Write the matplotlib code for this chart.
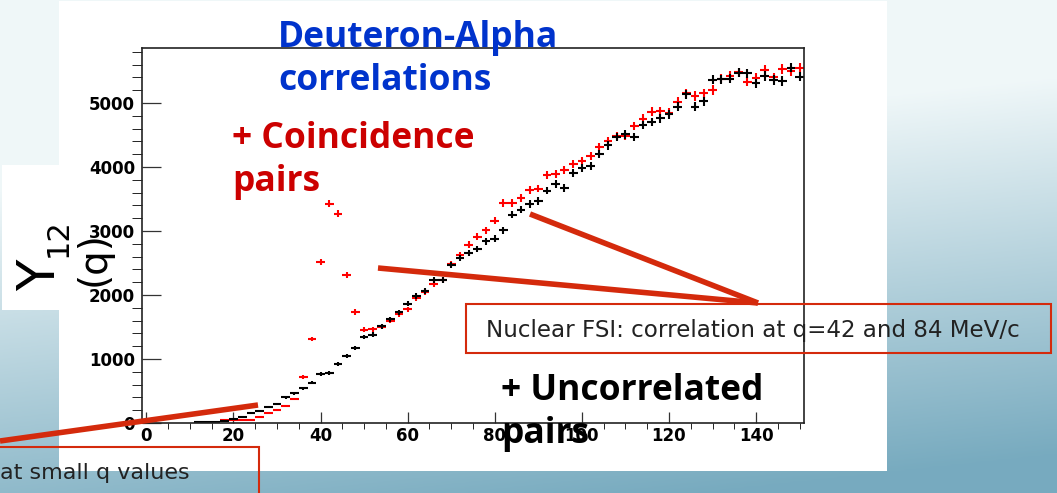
import numpy as np
import matplotlib.pyplot as plt
from matplotlib.patches import Rectangle
from matplotlib.lines import Line2D
from matplotlib.ticker import MultipleLocator

W, H = 1057, 493

# bin centres (2 MeV/c bins) and counts per bin
q = np.arange(0, 152, 2)
uncorrelated = [0, 0, 0, 0, 0, 0,
                15, 15, 20, 35, 60, 100, 160, 190, 245, 295,
                400, 465, 545, 630, 767, 783, 918, 1045, 1172, 1342,
                1378, 1508, 1618, 1730, 1865, 1990, 2060, 2235, 2235, 2470,
                2579, 2657, 2720, 2839, 2881, 3011, 3257, 3335, 3425, 3466,
                3633, 3740, 3675, 3910, 3988, 4013, 4208, 4338, 4468, 4510,
                4468, 4656, 4703, 4760, 4823, 4940, 5136, 4943, 5031, 5365,
                5371, 5382, 5476, 5465, 5308, 5423, 5360, 5345, 5554, 5413]
coincidence = [0, 0, 0, 0, 0, 0, 0, 0, 0,
               40, 45, 45, 45, 100, 150, 205, 265, 375, 720,
               1310, 2513, 3428, 3270, 2307, 1736, 1456, 1465, 1500, 1597,
               1700, 1775, 1950, 2045, 2165, 2240, 2480, 2618, 2787, 2908,
               3011, 3163, 3440, 3440, 3519, 3638, 3664, 3876, 3892, 3956,
               4051, 4092, 4170, 4317, 4405, 4483, 4483, 4640, 4756, 4865,
               4870, 4850, 5016, 5150, 5110, 5152, 5204, 5380, 5420, 5480,
               5335, 5397, 5517, 5400, 5528, 5501, 5554]

title_lines = ["Deuteron-Alpha", "correlations"]
coinc_lines = ["+ Coincidence", "pairs"]
uncorr_lines = ["+ Uncorrelated", "pairs"]
fsi_note = "Nuclear FSI: correlation at q=42 and 84 MeV/c"
coul_note = "at small q values"


def fx(px):
    return px / W


def fy(py):
    return 1 - py / H


fig = plt.figure(figsize=(W / 100, H / 100), dpi=100)

# slide background
bg = fig.add_axes([0, 0, 1, 1], zorder=-10)
yy, xx = np.mgrid[0:1:200j, 0:1:300j]
t = np.clip(yy * 1.3 + xx * 0.3 - 0.5, 0, 1)[..., None]
top = np.array([0.94, 0.97, 0.975])
bottom = np.array([0.47, 0.67, 0.75])
bg.imshow(top * (1 - t) + bottom * t, extent=[0, 1, 0, 1], aspect='auto')
bg.set_axis_off()

fig.add_artist(Rectangle((fx(59), fy(471)), fx(887) - fx(59), fy(1) - fy(471),
                         transform=fig.transFigure, facecolor='white',
                         edgecolor='none', zorder=-5))
fig.add_artist(Rectangle((fx(2), fy(310)), fx(60) - fx(2), fy(165) - fy(310),
                         transform=fig.transFigure, facecolor='white',
                         edgecolor='none', zorder=-5))

ax = fig.add_axes([fx(142), fy(423), fx(804) - fx(142), fy(48) - fy(423)])
ax.set_facecolor('none')

c = np.array(coincidence, dtype=float)
u = np.array(uncorrelated, dtype=float)
mc = c > 0
mu = u > 0
ax.errorbar(q[mc], c[mc], xerr=1, yerr=np.sqrt(c[mc]), fmt='none',
            ecolor='#ff0000', elinewidth=1.5, capsize=0)
ax.errorbar(q[mu], u[mu], xerr=1, yerr=np.sqrt(u[mu]), fmt='none',
            ecolor='black', elinewidth=1.5, capsize=0)

ax.set_xlim(-1, 151)
ax.set_ylim(0, 5860)
ax.xaxis.set_major_locator(MultipleLocator(20))
ax.xaxis.set_minor_locator(MultipleLocator(5))
ax.yaxis.set_major_locator(MultipleLocator(1000))
ax.yaxis.set_minor_locator(MultipleLocator(200))
ax.tick_params(direction='in', top=False, right=False, width=0.9, color='#333333')
ax.tick_params(axis='x', which='major', length=8, pad=3)
ax.tick_params(axis='x', which='minor', length=4.3)
ax.tick_params(axis='y', which='major', length=13.5, pad=5)
ax.tick_params(axis='y', which='minor', length=7)
for lab in ax.get_xticklabels() + ax.get_yticklabels():
    lab.set_fontsize(12)
    lab.set_fontweight('bold')
    lab.set_family('DejaVu Sans')
for sp in ax.spines.values():
    sp.set_linewidth(1.2)
    sp.set_color('#222222')

# y axis title
fig.text(fx(41), fy(275), "Y", rotation=90, fontsize=37, family='DejaVu Sans',
         ha='center', va='center')
fig.text(fx(58), fy(238), "12", rotation=90, fontsize=22, family='DejaVu Sans',
         ha='center', va='center')
fig.text(fx(94), fy(259), "(q)", rotation=90, fontsize=28, family='DejaVu Sans',
         ha='center', va='center')

# headline texts
big = dict(fontsize=25.5, fontweight='bold', family='Open Sans', ha='left', va='baseline')
fig.text(fx(278), fy(47), title_lines[0], color='#0033cc', **big)
fig.text(fx(278), fy(90), title_lines[1], color='#0033cc', **big)
fig.text(fx(232), fy(148), coinc_lines[0], color='#cc0000', **big)
fig.text(fx(232), fy(191), coinc_lines[1], color='#cc0000', **big)
fig.text(fx(501), fy(400), uncorr_lines[0], color='black', **big)
fig.text(fx(501), fy(443), uncorr_lines[1], color='black', **big)

# pointer lines
red = '#d42a0c'
for (x0, y0), (x1, y1) in [((0, 441), (258, 405)),
                           ((378, 268), (758, 303)),
                           ((530, 214), (758, 303))]:
    fig.add_artist(Line2D([fx(x0), fx(x1)], [fy(y0), fy(y1)],
                          transform=fig.transFigure, color=red, lw=4,
                          solid_capstyle='butt', zorder=5))

# note boxes
fig.add_artist(Rectangle((fx(466), fy(353)), fx(1051) - fx(466), fy(304) - fy(353),
                         transform=fig.transFigure, fill=False, edgecolor=red,
                         lw=1.5, zorder=5))
fig.text(fx(486), fy(337), fsi_note, fontsize=16.6, family='DejaVu Sans',
         color='#222222', ha='left', va='baseline')
fig.add_artist(Rectangle((fx(-5), fy(500)), fx(259) - fx(-5), fy(447) - fy(500),
                         transform=fig.transFigure, fill=False, edgecolor=red,
                         lw=1.5, zorder=5))
fig.text(fx(0), fy(479), coul_note, fontsize=16, family='DejaVu Sans',
         color='#222222', ha='left', va='baseline')

fig.savefig('out.png', dpi=100)
